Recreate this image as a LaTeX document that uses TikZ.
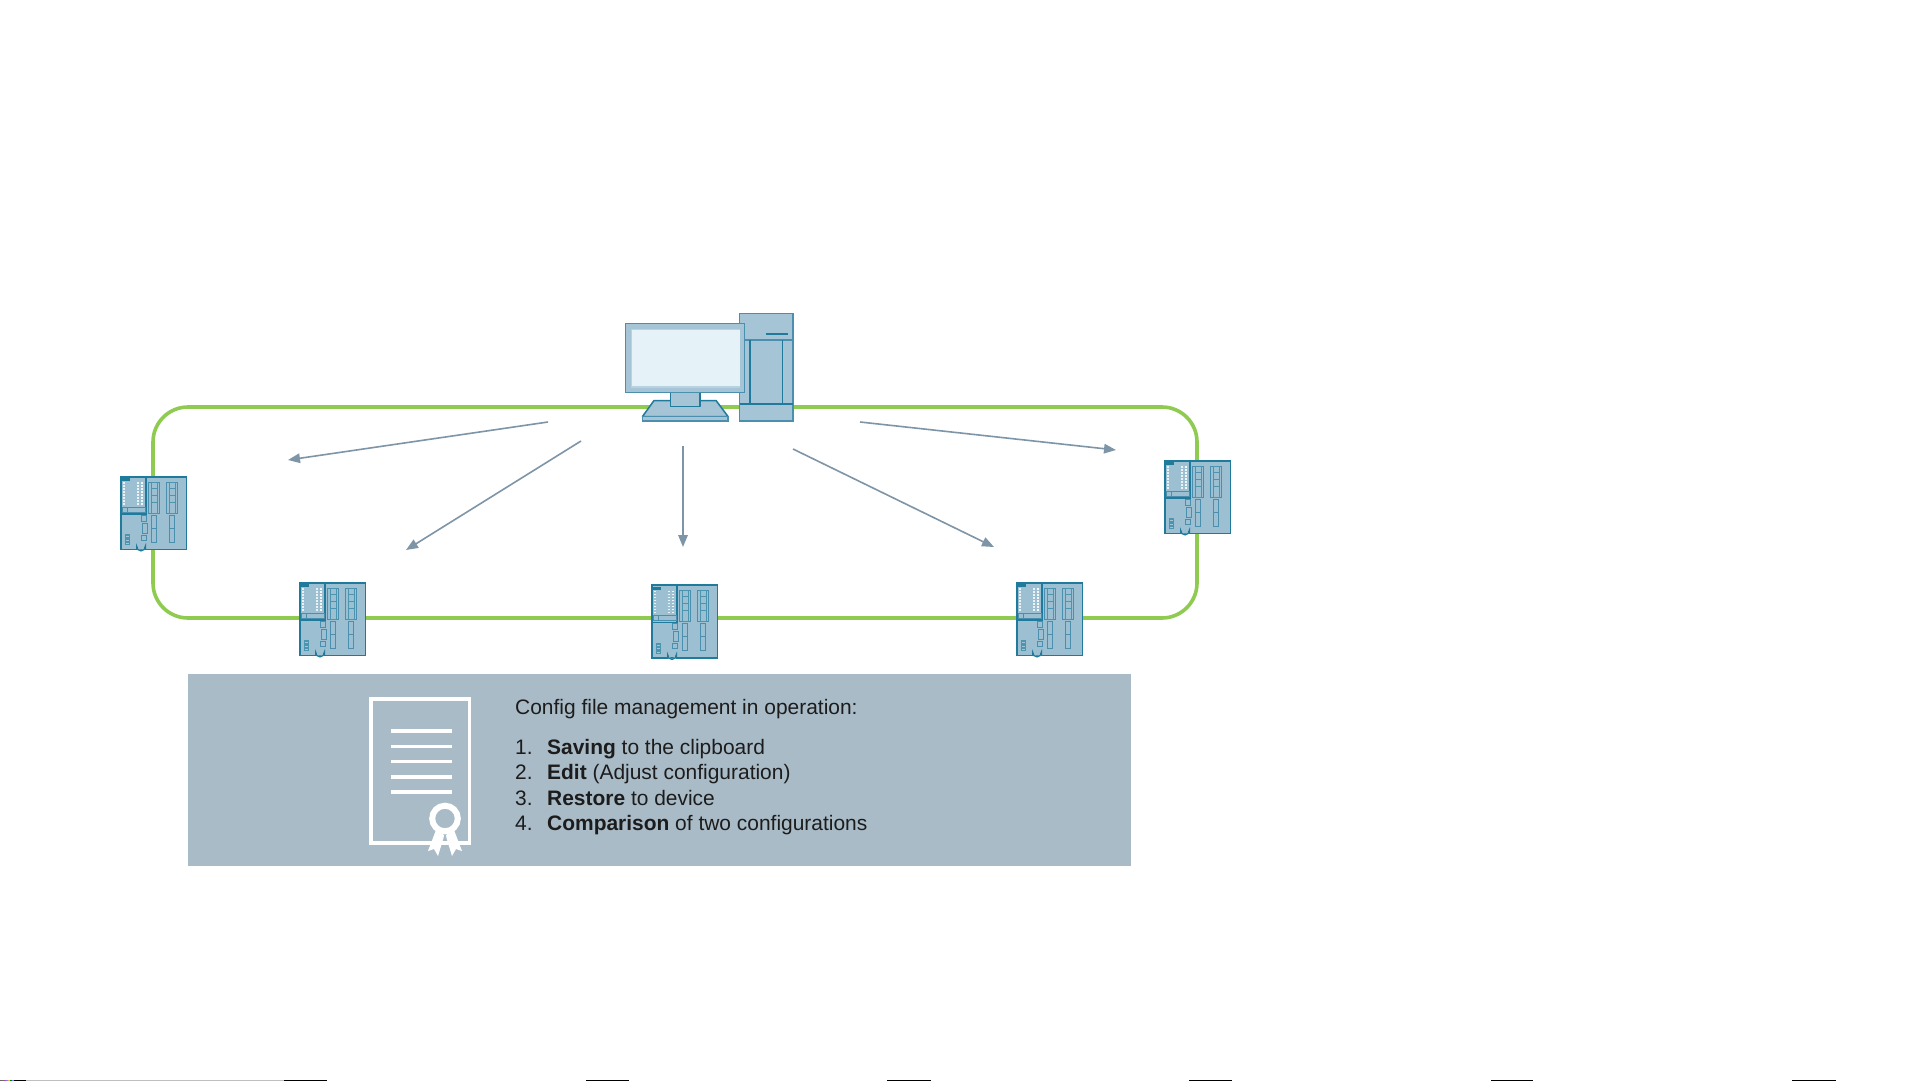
\documentclass[tikz,border=0pt]{standalone}
\usepackage{fontspec}
\setmainfont{Liberation Sans}
\usetikzlibrary{arrows.meta}
\definecolor{ringgreen}{HTML}{8FCB50}
\definecolor{arrowgrey}{HTML}{7E95A8}
\definecolor{panelblue}{HTML}{A9BBC7}
\definecolor{hwfill}{HTML}{A5C5D6}
\definecolor{hwfilltwo}{HTML}{9CBFD2}
\definecolor{hwline}{HTML}{1F7A9C}
\definecolor{hwsoft}{HTML}{4A8FAD}
\definecolor{screenfill}{HTML}{E5F3F9}
\definecolor{screenedge}{HTML}{B9D2DF}
\definecolor{textdark}{HTML}{1C1C1C}
\tikzset{
  x=1pt,y=-1pt,
  ring/.style={draw=ringgreen,line width=3.6pt,rounded corners=35pt},
  flow/.style={draw=arrowgrey,line width=1.6pt,-{Triangle[length=12pt,width=9.5pt]}},
  hwpart/.style={draw=hwline,line width=1.5pt,fill=hwfill,line join=round},
  hwsoftpart/.style={draw=hwsoft,line width=1.9pt,fill=hwfill},
  hwthin/.style={draw=hwsoft,line width=.9pt},
  doc/.style={draw=white,line width=3.2pt},
  listtext/.style={anchor=base west,inner sep=0pt,text=textdark,font=\fontsize{20.95pt}{25pt}\selectfont},
  device/.pic={
    \fill[hwfilltwo] (.7,.7) rectangle (66.5,73.5);
    \draw[hwthin] (28,6) rectangle (39,37);
    \draw[hwthin] (46,6) rectangle (57,37);
    \foreach \cx in {31,49}{
      \draw[hwthin,draw=hwline!80] (\cx,6) rectangle ++(6,31);
      \foreach \cy in {12,19,26}{\draw[hwthin,draw=hwline!80] (\cx,\cy) -- ++(6,0);}
      \draw[hwthin] (\cx,39) rectangle ++(5,13);
      \draw[hwthin] (\cx,52) rectangle ++(5,14);
    }
    \draw[hwline,line width=1.6pt] (.7,.7) rectangle (26,38);
    \fill[hwline] (2,2) rectangle (10,5);
    \foreach \cy in {6,9,...,27}{
      \fill[white,opacity=.8] (2.5,\cy) rectangle ++(2,1.6);
      \fill[white,opacity=.8] (17,\cy) rectangle ++(2,1.6);
      \fill[white,opacity=.9] (21,\cy) rectangle ++(2,1.6);
    }
    \draw[hwthin] (2.5,31) rectangle (7,36);
    \draw[hwthin] (7,31) rectangle (25,36);
    \draw[hwthin] (21,39) rectangle (26,45);
    \draw[hwthin] (22,47) rectangle (27,57);
    \draw[hwthin] (21,59) rectangle (26,64);
    \fill[hwline!80] (5,58) rectangle (10,69);
    \foreach \cy in {60,63.5,67}{\fill[hwfill] (6.2,\cy) rectangle ++(2.6,1.2);}
    \draw[hwline,line width=1.6pt] (.7,.7) rectangle (66.5,73.5);
    \fill[white] (17.5,75) -- (17.5,70.5) arc[start angle=180,end angle=0,radius=3.5] -- (24.5,75) -- cycle;
    \draw[hwline,line width=1.4pt] (16.7,73.5) -- (16.7,70.5) arc[start angle=180,end angle=0,radius=4.3] -- (25.3,73.5);
  }
}
\begin{document}
\begin{tikzpicture}
\useasboundingbox (0,0) rectangle (1922,1081);
\fill[white] (0,0) rectangle (1922,1081);

% coordinates of devices and arrow ends
\coordinate (devA) at (120,476);
\coordinate (devB) at (299,582);
\coordinate (devC) at (651,584.5);
\coordinate (devD) at (1016,582);
\coordinate (devE) at (1164,460);
\coordinate (a1s) at (548,422); \coordinate (a1e) at (288,460);
\coordinate (a2s) at (581,441); \coordinate (a2e) at (406,550);
\coordinate (a3s) at (683,446); \coordinate (a3e) at (683,547);
\coordinate (a4s) at (793,449); \coordinate (a4e) at (994,547);
\coordinate (a5s) at (860,422); \coordinate (a5e) at (1116,450);

% ring
\draw[ring] (153,407) rectangle (1197,618);

% devices
\foreach \d in {devA,devB,devC,devD,devE}{\pic at (\d) {device};}

% arrows
\draw[flow] (a1s) -- (a1e);
\draw[flow] (a2s) -- (a2e);
\draw[flow] (a3s) -- (a3e);
\draw[flow] (a4s) -- (a4e);
\draw[flow] (a5s) -- (a5e);

% computer: tower
\draw[hwsoftpart] (739.5,313.5) rectangle (793,421);
\draw[hwsoftpart,fill=none] (739.5,340) -- (793,340);
\draw[hwline,line width=1.4pt] (766,334) -- (788,334);
\draw[hwline,line width=1.5pt] (750,340) -- (750,404);
\draw[hwline,line width=1.5pt] (782.5,340) -- (782.5,404);
\draw[hwline,line width=1.5pt] (739.5,404) -- (793,404);
% computer: base and neck
\draw[hwpart] (654,400.5) -- (716,400.5) -- (728,416.5) -- (642.5,416.5) -- cycle;
\draw[hwsoftpart] (642.5,416.5) rectangle (728,421);
\draw[hwpart] (670.5,390) rectangle (700,406.5);
% computer: monitor
\draw[hwsoftpart] (625.5,323.5) rectangle (744.5,392.5);
\fill[screenedge] (630.5,329) rectangle (740,387.5);
\fill[screenfill] (631.5,329.5) rectangle (739.5,386);

% panel
\fill[panelblue] (188,674) rectangle (1131,866);

% document icon
\draw[doc] (371,699) rectangle (469.5,843);
\foreach \ly in {731,746.5,761.5,777,792}{\draw[doc] (391,\ly) -- (452,\ly);}
\fill[white] (428,851) -- (436,830) -- (444,835) -- (443.5,838) -- (438,856) -- (434,849) -- cycle;
\fill[white] (462,851) -- (454,830) -- (446,835) -- (446.5,838) -- (452,856) -- (456,849) -- cycle;
\draw[white,line width=6pt,fill=panelblue] (445,818.5) circle[radius=12.8];

% text
\node[listtext] (title) at (515,714) {Config file management in operation:};
\node[listtext] (n1) at (515,754) {1.};
\node[listtext] (t1) at (547,754) {\textbf{Saving} to the clipboard};
\node[listtext] (n2) at (515,779) {2.};
\node[listtext] (t2) at (547,779) {\textbf{Edit} (Adjust configuration)};
\node[listtext] (n3) at (515,805) {3.};
\node[listtext] (t3) at (547,805) {\textbf{Restore} to device};
\node[listtext] (n4) at (515,830) {4.};
\node[listtext] (t4) at (547,830) {\textbf{Comparison} of two configurations};

% bottom edge marks
\foreach \sx/\sc in {0/black!60,3/violet!70,6/blue!50,8/orange!70,10/green!50!black,12/blue!50,14/black}{\fill[\sc] (\sx,1080) rectangle (\sx+3,1081);}
\fill[black] (15,1080) rectangle (26,1081);
\fill[black!25] (26,1080) rectangle (284,1081);
\foreach \bx/\bw in {284/43,586/43,887/44,1189/43,1491/42,1792/44}{\fill[black] (\bx,1080) rectangle ++(\bw,1);}
\end{tikzpicture}
\end{document}
